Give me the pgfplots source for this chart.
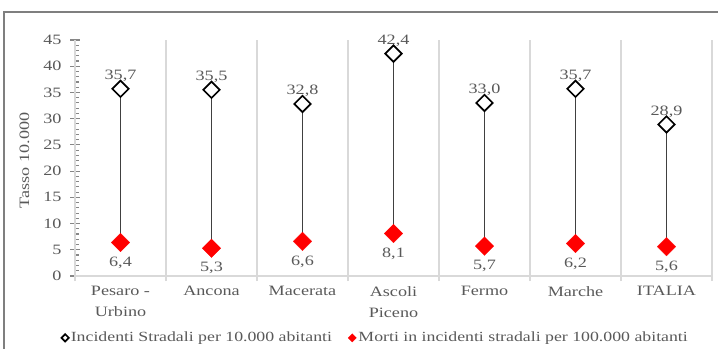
\documentclass[border=0pt]{standalone}
\usepackage{pgfplots}
\pgfplotsset{compat=1.18}
\usepackage{fontspec}
\setmainfont{Liberation Serif}[FakeStretch=1.27]
\pgfplotsset{/pgf/number format/assume math mode=true}
\definecolor{txt}{HTML}{595959}
\definecolor{grd}{HTML}{D9D9D9}
\definecolor{ax}{HTML}{868686}
\definecolor{conn}{HTML}{404040}
\definecolor{bord}{HTML}{7F7F7F}
\newcommand{\lbl}{\fontsize{14.3bp}{21bp}\selectfont}
\newcommand{\lgd}{\fontsize{14bp}{17bp}\selectfont}
\begin{document}
\lbl
\begin{tikzpicture}
\useasboundingbox (0,0) rectangle (718bp,349bp);
\draw[bord, line width=1.5bp] (4bp,-10bp) -- (4bp,337bp) -- (730bp,337bp);
\begin{axis}[
  at={(75bp,73bp)}, anchor=south west, scale only axis,
  width=637bp, height=236bp,
  xmin=-0.5, xmax=6.5, ymin=0, ymax=45,
  axis x line=bottom, axis y line=left, axis line style={-},
  x axis line style={grd, line width=1.3bp},
  y axis line style={ax, line width=1.3bp},
  xtick={0,...,6},
  xticklabels={{Pesaro -\\Urbino},Ancona,Macerata,{Ascoli\\Piceno},Fermo,Marche,ITALIA},
  xtick style={draw=none},
  xticklabel style={align=center, font=\lbl, text=txt, yshift=-1bp},
  extra x ticks={-0.5,0.5,1.5,2.5,3.5,4.5,5.5,6.5},
  extra x tick labels={},
  extra x tick style={grid=major, major grid style={grd, line width=1.3bp},
     xtick style={draw=grd, line width=1.3bp}, tick align=outside, major tick length=5bp},
  ytick={0,5,...,45}, minor y tick num=4,
  ytick style={draw=ax, line width=1.1bp},
  tick align=center, major tick length=9bp, minor tick length=4bp,
  minor y tick style={xshift=2bp},
  yticklabel style={font=\lbl, text=txt, xshift=-4bp},
  ylabel={Tasso 10.000},
  ylabel style={at={(axis description cs:-0.0793,0.49)}, anchor=center, font=\lbl, text=txt},
  legend columns=2,
  legend style={at={(0.472,-0.262)}, anchor=center, draw=none, fill=none, font=\lgd, text=txt,
     /tikz/every even column/.append style={column sep=14bp}},
  clip=false,
]
\addplot[conn, line width=1bp, unbounded coords=jump, forget plot] coordinates {
 (0,6.4) (0,35.7) (0,nan)
 (1,5.3) (1,35.5) (1,nan)
 (2,6.6) (2,32.8) (2,nan)
 (3,8.1) (3,42.4) (3,nan)
 (4,5.7) (4,33.0) (4,nan)
 (5,6.2) (5,35.7) (5,nan)
 (6,5.6) (6,28.9)
};
\addplot[only marks, mark=square*, mark size=5.8bp,
  mark options={rotate=45, fill=white, draw=black, line width=1.7bp},
  legend image post style={mark size=2.6bp, line width=1.3bp},
  nodes near coords={\pgfmathprintnumber[fixed,fixed zerofill,precision=1,use comma]{\pgfplotspointmeta}},
  every node near coord/.append style={anchor=center, yshift=13bp, font=\lbl, text=txt}]
coordinates {(0,35.7) (1,35.5) (2,32.8) (3,42.4) (4,33.0) (5,35.7) (6,28.9)};
\addlegendentry{Incidenti Stradali per 10.000 abitanti}
\addplot[only marks, mark=square*, mark size=6.6bp,
  mark options={rotate=45, fill=red, draw=red, line width=0.1bp},
  legend image post style={mark size=3bp},
  nodes near coords={\pgfmathprintnumber[fixed,fixed zerofill,precision=1,use comma]{\pgfplotspointmeta}},
  every node near coord/.append style={anchor=center, yshift=-20bp, font=\lbl, text=txt}]
coordinates {(0,6.4) (1,5.3) (2,6.6) (3,8.1) (4,5.7) (5,6.2) (6,5.6)};
\addlegendentry{Morti in incidenti stradali per 100.000 abitanti}
\end{axis}
\end{tikzpicture}
\end{document}
